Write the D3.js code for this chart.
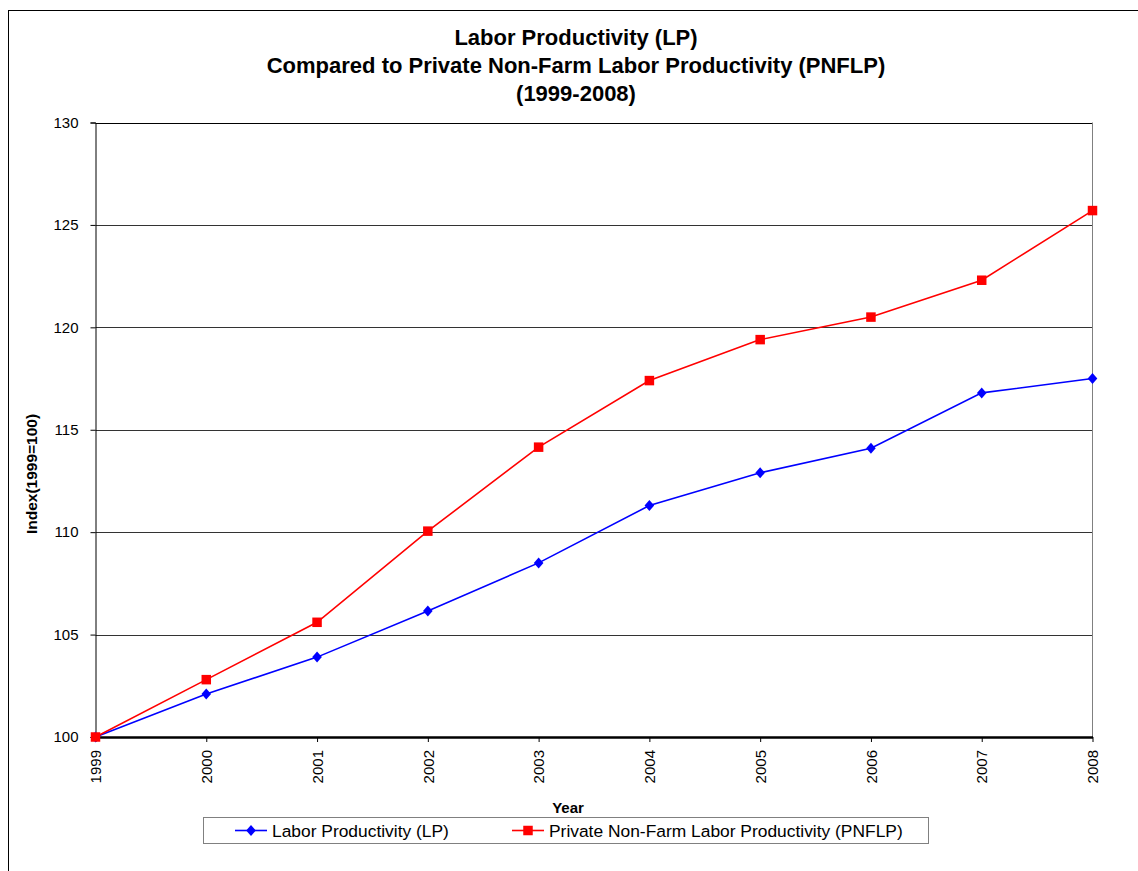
<!DOCTYPE html>
<html>
<head>
<meta charset="utf-8">
<script src="https://cdn.jsdelivr.net/npm/d3@7"></script>
<style>
  html, body { margin: 0; padding: 0; background: #fff; }
  svg { display: block; font-family: "Liberation Sans", Arial, sans-serif; }
</style>
</head>
<body>
<svg id="chart" width="1138" height="871"></svg>
<script>
// Index values, 1999 = 100
const years = [1999, 2000, 2001, 2002, 2003, 2004, 2005, 2006, 2007, 2008];
const lpValues = [100, 102.1, 103.9, 106.15, 108.5, 111.3, 112.9, 114.1, 116.8, 117.5];
const pnflpValues = [100, 102.8, 105.6, 110.05, 114.15, 117.4, 119.4, 120.5, 122.3, 125.7];
const yTicks = [100, 105, 110, 115, 120, 125, 130];
const seriesNames = ["Labor Productivity (LP)", "Private Non-Farm Labor Productivity (PNFLP)"];
const titleLines = ["Labor Productivity (LP)", "Compared to Private Non-Farm Labor Productivity (PNFLP)", "(1999-2008)"];

const svg = d3.select("#chart");
const W = 1138, H = 871;
const plot = { left: 95.5, right: 1092.5, top: 122.5, bottom: 737 };

// outer chart frame
svg.append("rect")
  .attr("x", 8.5).attr("y", 10.5)
  .attr("width", W + 20).attr("height", H + 20)
  .attr("fill", "#fff").attr("stroke", "#000").attr("stroke-width", 1);

const x = d3.scalePoint().domain(years).range([plot.left, plot.right]);
const y = d3.scaleLinear().domain([100, 130]).range([plot.bottom, plot.top]);

// title
svg.append("g").selectAll("text").data(titleLines).join("text")
  .attr("x", 576).attr("y", (d, i) => 45 + i * 28)
  .attr("text-anchor", "middle")
  .attr("font-size", 22).attr("font-weight", "bold").attr("fill", "#000")
  .text(d => d);

// horizontal gridlines
svg.append("g").selectAll("line").data(yTicks.filter(v => v > 100)).join("line")
  .attr("x1", plot.left).attr("x2", plot.right)
  .attr("y1", d => Math.round(y(d)) + 0.5).attr("y2", d => Math.round(y(d)) + 0.5)
  .attr("stroke", d => d === 130 ? "#000" : "#333").attr("stroke-width", 1);

// right edge of plot area
svg.append("line")
  .attr("x1", plot.right).attr("x2", plot.right)
  .attr("y1", plot.top).attr("y2", plot.bottom)
  .attr("stroke", "#808080").attr("stroke-width", 1);

// y axis
const yAxis = svg.append("g")
  .attr("transform", `translate(${plot.left},0)`)
  .call(d3.axisLeft(y).tickValues(yTicks).tickSize(5).tickPadding(12).tickFormat(d3.format("d")));
yAxis.select(".domain").attr("stroke", "#000");
yAxis.selectAll(".tick line").attr("stroke", "#000");
yAxis.selectAll(".tick text")
  .attr("font-family", "Liberation Sans, Arial, sans-serif")
  .attr("font-size", 15).attr("fill", "#000");

// x axis
const xAxis = svg.append("g")
  .attr("transform", `translate(0,${plot.bottom})`)
  .call(d3.axisBottom(x).tickSize(5).tickSizeOuter(0));
xAxis.select(".domain").attr("stroke", "#000").attr("stroke-width", 2.5);
xAxis.selectAll(".tick line").attr("stroke", "#000");
xAxis.selectAll(".tick text")
  .attr("font-family", "Liberation Sans, Arial, sans-serif")
  .attr("font-size", 15).attr("fill", "#000")
  .attr("transform", "rotate(-90)")
  .attr("text-anchor", "end")
  .attr("x", -13).attr("y", 0).attr("dy", "0.35em");

// axis titles
svg.append("text")
  .attr("x", 568).attr("y", 813)
  .attr("text-anchor", "middle")
  .attr("font-size", 15).attr("font-weight", "bold")
  .text("Year");
svg.append("text")
  .attr("transform", `translate(37,474) rotate(-90)`)
  .attr("text-anchor", "middle")
  .attr("font-size", 15.5).attr("font-weight", "bold")
  .text("Index(1999=100)");

// series
const line = d3.line().x((d, i) => x(years[i])).y(d => y(d));
const diamondPath = "M0,-5.5L4.8,0L0,5.5L-4.8,0Z";

function drawSeries(values, color, marker) {
  const g = svg.append("g");
  g.append("path").datum(values)
    .attr("d", line).attr("fill", "none")
    .attr("stroke", color).attr("stroke-width", 1.6);
  if (marker === "diamond") {
    g.selectAll("path.m").data(values).join("path").attr("class", "m")
      .attr("transform", (d, i) => `translate(${x(years[i])},${y(d)})`)
      .attr("d", diamondPath).attr("fill", color);
  } else {
    g.selectAll("rect").data(values).join("rect")
      .attr("x", (d, i) => x(years[i]) - 4.75).attr("y", d => y(d) - 4.75)
      .attr("width", 9.5).attr("height", 9.5).attr("fill", color);
  }
}
drawSeries(lpValues, "#0000ff", "diamond");
drawSeries(pnflpValues, "#ff0000", "square");

// legend
const legend = svg.append("g");
legend.append("rect")
  .attr("x", 203.5).attr("y", 817.5).attr("width", 725).attr("height", 26)
  .attr("fill", "#fff").attr("stroke", "#808080").attr("stroke-width", 1);
const legendItems = [
  { name: seriesNames[0], color: "#0000ff", marker: "diamond", x0: 235 },
  { name: seriesNames[1], color: "#ff0000", marker: "square", x0: 512 }
];
legendItems.forEach(it => {
  const cy = 830.5;
  legend.append("line")
    .attr("x1", it.x0).attr("x2", it.x0 + 32).attr("y1", cy).attr("y2", cy)
    .attr("stroke", it.color).attr("stroke-width", 1.6);
  if (it.marker === "diamond") {
    legend.append("path").attr("transform", `translate(${it.x0 + 16},${cy})`)
      .attr("d", diamondPath).attr("fill", it.color);
  } else {
    legend.append("rect").attr("x", it.x0 + 16 - 4.75).attr("y", cy - 4.75)
      .attr("width", 9.5).attr("height", 9.5).attr("fill", it.color);
  }
  legend.append("text")
    .attr("x", it.x0 + 37).attr("y", cy).attr("dy", "0.35em")
    .attr("font-size", 17.4).attr("fill", "#000")
    .text(it.name);
});
</script>
</body>
</html>
